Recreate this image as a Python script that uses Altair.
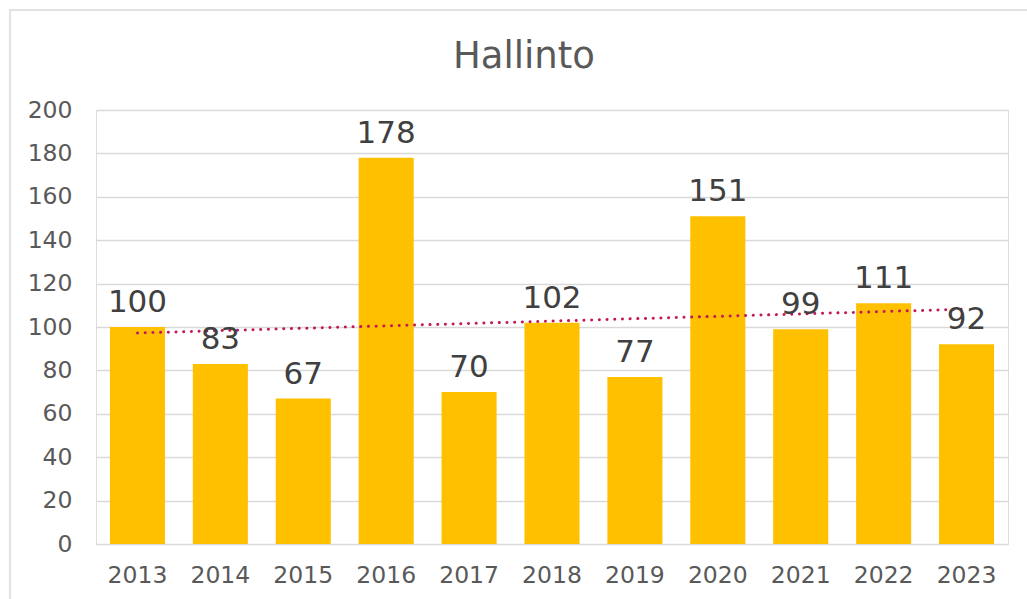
import altair as alt
import pandas as pd

years = [2013, 2014, 2015, 2016, 2017, 2018, 2019, 2020, 2021, 2022, 2023]
values = [100, 83, 67, 178, 70, 102, 77, 151, 99, 111, 92]
y_ticks = [0, 20, 40, 60, 80, 100, 120, 140, 160, 180, 200]
title_text = "Hallinto"

df = pd.DataFrame({"year": years, "value": values})

FONT = "DejaVu Sans"

x = alt.X("year:O", title=None,
          scale=alt.Scale(paddingInner=0.336, paddingOuter=0.168),
          axis=alt.Axis(labelAngle=0, labelFontSize=23.5, labelColor="#595959",
                        labelFont=FONT, ticks=False, domain=False, labelPadding=19,
                        grid=False))
y = alt.Y("value:Q", title=None,
          scale=alt.Scale(domain=[0, 200], nice=False),
          axis=alt.Axis(values=y_ticks, labelFontSize=23.5, labelColor="#595959",
                        labelFont=FONT, ticks=False, domain=False, labelPadding=24,
                        gridColor="#D9D9D9", gridWidth=1.5))

base = alt.Chart(df)

bars = base.mark_bar(color="#FFC000").encode(x=x, y=y)

labels = base.mark_text(fontSize=31, font=FONT, color="#404040",
                        baseline="alphabetic", dy=-15).encode(
    x=alt.X("year:O"), y=alt.Y("value:Q"), text=alt.Text("value:Q"))

trend = base.transform_regression("year", "value", method="linear").mark_line(
    color="#C2185B", strokeWidth=3, strokeDash=[0.1, 7.6], strokeCap="round"
).encode(x=alt.X("year:O"), y=alt.Y("value:Q"))

border = alt.Chart(pd.DataFrame({"a": [0]})).mark_rect(
    fill=None, stroke="#D9D9D9", strokeWidth=1.5
).encode(x=alt.value(-86), x2=alt.value(960), y=alt.value(-100), y2=alt.value(520))

title = alt.Chart(pd.DataFrame({"t": [title_text]})).mark_text(
    fontSize=37, font=FONT, color="#595959", align="center", baseline="alphabetic"
).encode(text="t:N", x=alt.value(428), y=alt.value(-42))

chart = alt.layer(border, bars, trend, labels, title).properties(
    width=912, height=434,
    padding={"left": 96, "top": 110, "right": 19, "bottom": 55},
    autosize=alt.AutoSizeParams(type="none"),
).configure_view(stroke=None).configure(background="white")

chart.save("out.html", embed_options={"renderer": "svg", "actions": False})
